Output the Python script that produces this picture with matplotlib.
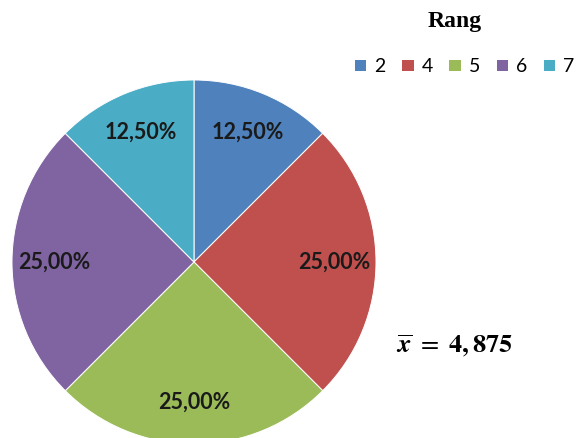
import matplotlib
matplotlib.use('Agg')
import matplotlib.pyplot as plt
from matplotlib.patches import Patch

# rank values and how often each occurs
rang = ['2', '4', '5', '6', '7']
anteil = [12.5, 25.0, 25.0, 25.0, 12.5]
farben = ['#4F81BD', '#C0504D', '#9BBB59', '#8064A2', '#4BACC6']
mittel = '4,875'

plt.rcParams['font.family'] = ['Lato', 'DejaVu Sans']
plt.rcParams['mathtext.fontset'] = 'stix'

W, H = 577, 438
fig = plt.figure(figsize=(W / 100, H / 100), dpi=100)

# pie center about (194, 262) px, radius about 182 px
cx, cy, r = 194, 262, 182
ax = fig.add_axes([(cx - r) / W, (H - cy - r) / H, 2 * r / W, 2 * r / H])

def fmt(p):
    return ('%.2f%%' % p).replace('.', ',')

wedges, texts, autotexts = ax.pie(
    anteil, colors=farben, startangle=90, counterclock=False,
    autopct=fmt, pctdistance=0.77,
    wedgeprops=dict(edgecolor='white', linewidth=0.7),
    textprops=dict(fontsize=15.5, fontweight='bold', color='#1a1a1a'))
ax.set_xlim(-1, 1)
ax.set_ylim(-1, 1)
ax.axis('off')

fig.text(455 / W, 1 - 22 / H, 'Rang', ha='center', va='center',
         fontsize=17, fontweight='bold', family='Liberation Serif')

handles = [Patch(facecolor=c, edgecolor='none') for c in farben]
fig.legend(handles, rang, loc='center left', ncol=5,
           bbox_to_anchor=(355 / W, 1 - 67 / H), frameon=False,
           fontsize=14, handlelength=0.58, handleheight=0.5,
           handletextpad=0.42, columnspacing=0.85,
           borderpad=0, borderaxespad=0)

fig.text(396 / W, 1 - 346 / H,
         r'$\overline{\mathbfit{x}}\ =\ \mathbf{' + mittel + '}$',
         ha='left', va='center', fontsize=19)

fig.savefig('out.png', dpi=100)
